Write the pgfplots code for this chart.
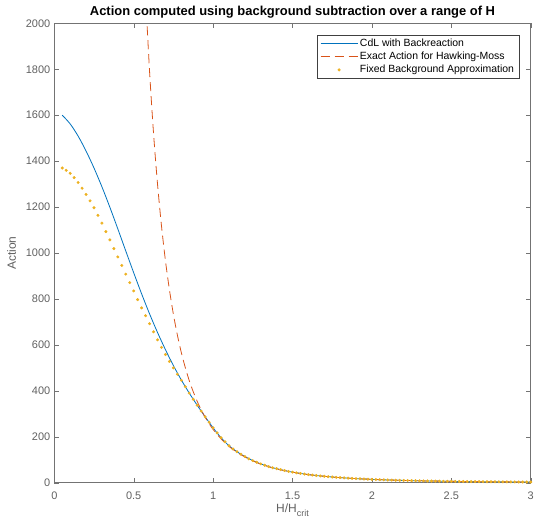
\documentclass[border=0pt]{standalone}
\usepackage{fontspec}
\setmainfont{Liberation Sans}
\usepackage{pgfplots}
\pgfplotsset{compat=1.18}
\usepackage{pgfplotstable}
\definecolor{mblue}{rgb}{0,0.447,0.741}
\definecolor{mred}{rgb}{0.85,0.325,0.098}
\definecolor{myellow}{rgb}{0.929,0.694,0.125}
\definecolor{axgray}{rgb}{0.45,0.45,0.45}
\definecolor{txgray}{rgb}{0.38,0.38,0.38}

\pgfplotstableread{
x y
0.05 1600
0.10 1562
0.15 1509
0.20 1444
0.25 1370
0.30 1288
0.35 1199
0.40 1105
0.45 1009
0.50 914
0.55 822
0.60 735
0.65 654
0.70 579
0.75 510
0.80 447
0.85 390
0.90 337
0.95 287
1.00 239
1.05 196
1.10 161
1.15 135
1.20 114
1.25 96
1.30 82
1.35 70
1.40 61
1.45 53
1.50 46
1.60 35.4
1.70 27.8
1.80 22.1
1.90 17.8
2.00 14.5
2.10 11.9
2.20 9.9
2.30 8.3
2.40 7.0
2.50 5.9
2.60 5.1
2.70 4.4
2.80 3.8
2.90 3.3
3.00 2.9
}\cdl

\pgfplotstableread{
x y
0.55 2535
0.575 2122
0.60 1790
0.625 1520
0.65 1300
0.675 1118
0.70 966
0.725 840
0.75 733
0.775 643
0.80 566
0.825 501
0.85 444
0.875 396
0.90 354
0.925 317
0.95 285
0.975 257
1.00 232
1.05 191
1.10 158
1.15 133
1.20 112
1.25 95
1.30 81
1.35 70
1.40 60
1.50 46
1.60 35
1.70 28
1.80 22
1.90 18
2.00 14.5
2.20 9.9
2.40 7.0
2.60 5.1
2.80 3.8
3.00 2.9
}\hm

\pgfplotstableread{
x y
0.050 1370
0.075 1360
0.100 1347
0.125 1328
0.150 1307
0.175 1282
0.200 1255
0.225 1227
0.250 1197
0.275 1164
0.300 1130
0.325 1093
0.350 1057
0.375 1019
0.400 983
0.425 946
0.450 908
0.475 871
0.500 835
0.525 797
0.550 761
0.575 727
0.600 692
0.625 657
0.650 622
0.675 589
0.700 558
0.725 528
0.750 500
0.775 472
0.800 446
0.825 418
0.850 390
0.875 363
0.900 337
0.925 312
0.950 287
0.975 263
1.000 239
1.025 217
1.050 196
1.075 178
1.100 161
1.125 147
1.150 135
1.175 124
1.200 114
1.225 104
1.250 96
1.275 89
1.300 82
1.325 76
1.350 70
1.375 65
1.400 61
1.425 57
1.450 53
1.475 49
1.500 46
1.525 42.9
1.550 40.2
1.575 37.7
1.600 35.4
1.625 33.3
1.650 31.3
1.675 29.5
1.700 27.8
1.725 26.2
1.750 24.7
1.775 23.4
1.800 22.1
1.825 20.9
1.850 19.8
1.875 18.8
1.900 17.8
1.925 16.9
1.950 16.0
1.975 15.2
2.000 14.5
2.025 13.8
2.050 13.1
2.075 12.5
2.100 11.9
2.125 11.4
2.150 10.9
2.175 10.4
2.200 9.9
2.225 9.5
2.250 9.1
2.275 8.7
2.300 8.3
2.325 7.9
2.350 7.6
2.375 7.3
2.400 7.0
2.425 6.7
2.450 6.4
2.475 6.2
2.500 5.9
2.525 5.7
2.550 5.5
2.575 5.3
2.600 5.1
2.625 4.9
2.650 4.7
2.675 4.5
2.700 4.4
2.725 4.2
2.750 4.1
2.775 3.9
2.800 3.8
2.825 3.7
2.850 3.5
2.875 3.4
2.900 3.3
2.925 3.2
2.950 3.1
2.975 3.0
3.000 2.9
}\fba

\begin{document}
\begin{tikzpicture}
\useasboundingbox (-54.3bp,-43.3bp) rectangle (479.7bp,482.7bp);
\begin{axis}[
  scale only axis,
  width=476.4bp, height=459.4bp,
  xmin=0, xmax=3, ymin=0, ymax=2000,
  xtick={0,0.5,...,3}, ytick={0,200,...,2000},
  tick align=inside,
  major tick length=4.8bp,
  axis line style={axgray, line width=0.6bp},
  tick style={axgray, line width=0.6bp},
  every tick/.style={axgray},
  /pgf/number format/.cd, 1000 sep={}, assume math mode=true,
  /pgfplots/.cd,
  ticklabel style={font=\fontsize{11}{13}\selectfont, text=txgray},
  yticklabel style={xshift=-0.5bp},
  xticklabel style={yshift=-6bp},
  title={\bfseries Action computed using background subtraction over a range of H},
  title style={font=\fontsize{13}{15}\selectfont, yshift=-4bp},
  xlabel={H/H\raisebox{-0.6ex}{\fontsize{9}{9}\selectfont crit}},
  ylabel={Action},
  label style={font=\fontsize{12}{14}\selectfont, text=txgray},
  xlabel style={yshift=3bp},
  ylabel style={yshift=3bp},
  legend style={at={(1,1)}, anchor=north east, xshift=-11.4bp, yshift=-11.7bp,
    draw=black!75, line width=0.5bp, font=\fontsize{10.5}{15}\selectfont,
    inner xsep=3bp, inner ysep=2bp, row sep=0bp},
  legend cell align=left,
  legend image code/.code={\draw[mark repeat=2,mark phase=2,#1] plot coordinates {(0bp,0bp) (18.5bp,0bp) (37bp,0bp)};},
]
\addplot[mblue, line width=0.8bp, smooth] table[x=x,y=y] {\cdl};
\addlegendentry{CdL with Backreaction}
\addplot[mred, line width=0.8bp, dash pattern=on 9bp off 5bp, smooth] table[x=x,y=y] {\hm};
\addlegendentry{Exact Action for Hawking-Moss}
\addplot[myellow, only marks, mark=*, mark size=1.3bp, mark options={draw=none, fill=myellow}] table[x=x,y=y] {\fba};
\addlegendentry{Fixed Background Approximation}
\end{axis}
\end{tikzpicture}
\end{document}
